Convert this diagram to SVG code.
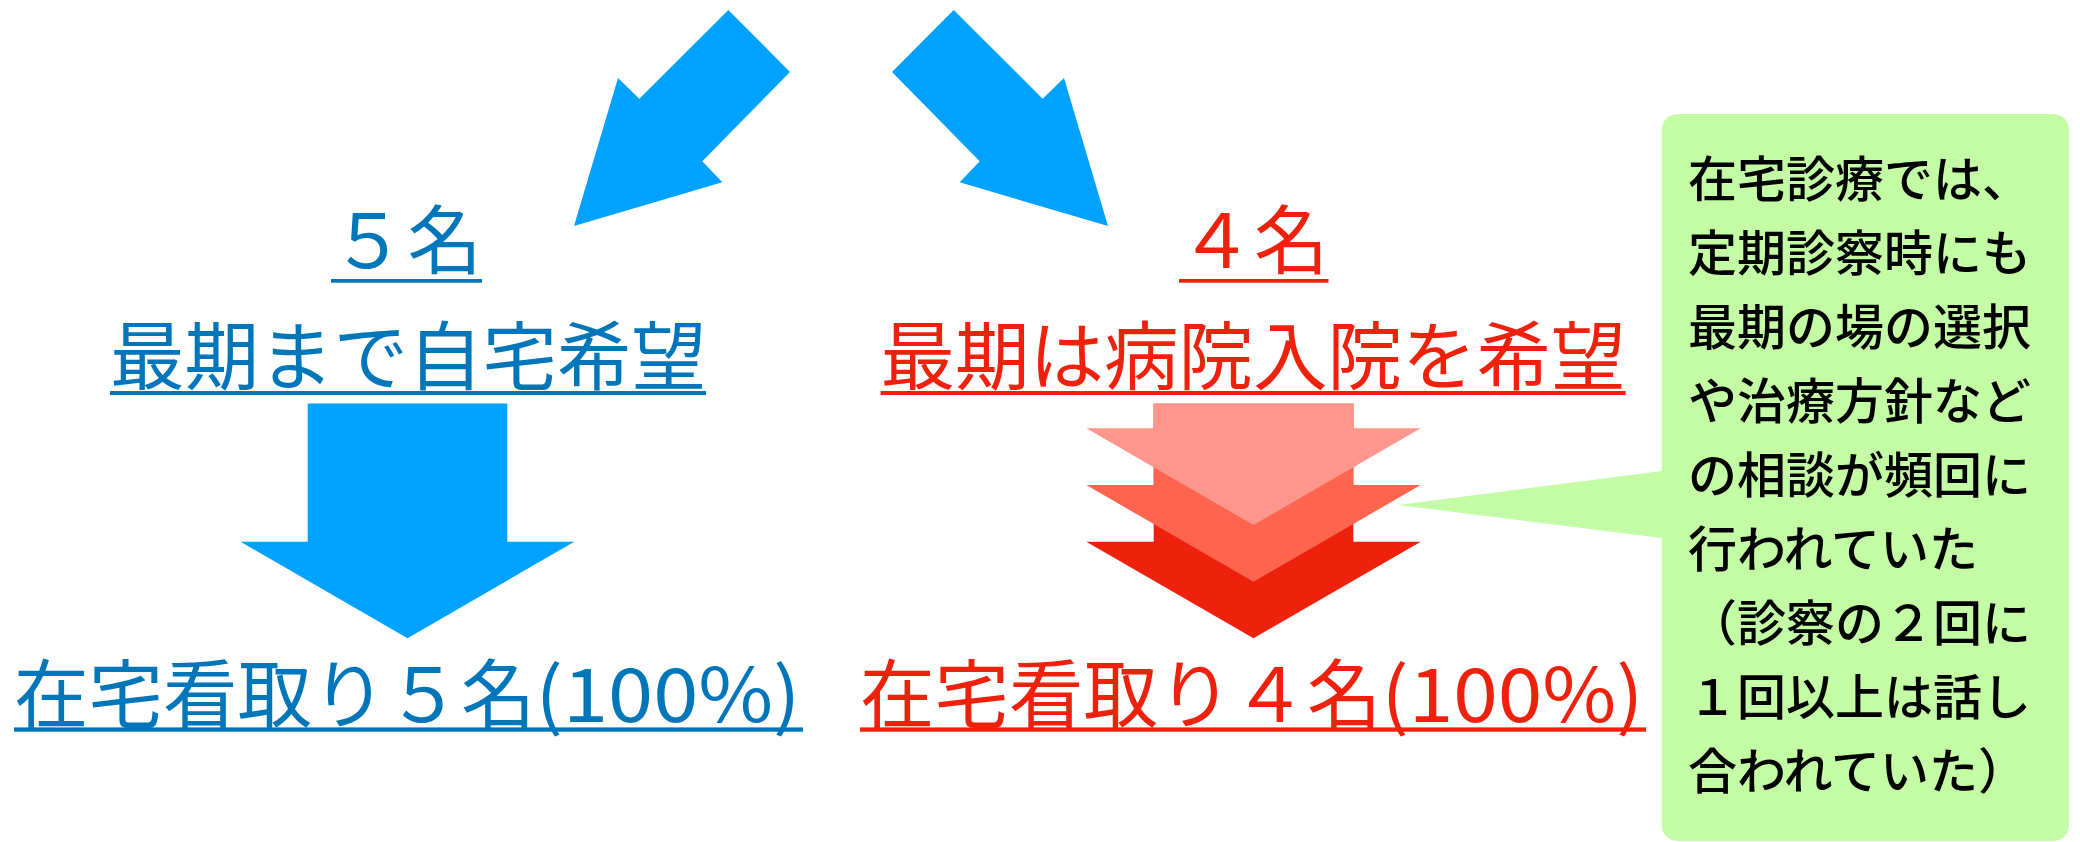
<svg xmlns="http://www.w3.org/2000/svg" width="2080" height="842" viewBox="0 0 2080 842">
  <style>
    .lbl { font-family: "Noto Sans CJK JP", "Noto Sans", sans-serif; font-size: 74.5px; font-weight: 400; }
    .blue { fill: #0076BA; }
    .red { fill: #EE220C; }
    .note { font-family: "Noto Sans CJK JP", "Noto Sans", sans-serif; font-size: 49px; font-weight: 500; fill: #000000; }
    .bigarrow { fill: #00A2FF; }
  </style>
  <rect width="2080" height="842" fill="#FFFFFF"/>

  <g id="connectors">
    <polygon id="arrow-left-diag" class="bigarrow" points="728.3,10 790,72 702.3,161.3 722.3,182.3 574,226 618,78 639.3,98.7"/>
    <polygon id="arrow-right-diag" class="bigarrow" points="953.7,10 1042.7,98.7 1064,78 1108,226 959.7,182.3 979.7,161.3 892,72"/>
    <polygon id="arrow-left-down" class="bigarrow" points="307.7,403.5 507.3,403.5 507.3,541.7 574.3,541.7 407.5,638.3 240.5,541.7 307.7,541.7"/>
    <g id="arrow-right-down">
      <polygon fill="#EE220C" points="1153.7,403.7 1353.3,403.7 1353.3,541.7 1420.7,541.7 1253.5,638.3 1086.3,541.7 1153.7,541.7"/>
      <polygon fill="#FF644E" points="1153.7,403.7 1353.3,403.7 1353.3,485 1420.7,485 1253.5,581.7 1086.3,485 1153.7,485"/>
      <polygon fill="#FF968D" points="1153.7,403.7 1353.3,403.7 1353.3,428.3 1420.7,428.3 1253.5,525 1086.3,428.3 1153.7,428.3"/>
    </g>
  </g>

  <g id="left-count">
    <text class="lbl blue" x="331" y="267.5" textLength="151">５名</text>
    <rect class="blue" x="331" y="279" width="151" height="3.7"/>
  </g>
  <g id="left-wish">
    <text class="lbl blue" x="110" y="384" textLength="596">最期まで自宅希望</text>
    <rect class="blue" x="110" y="391" width="596" height="4"/>
  </g>
  <g id="left-result">
    <text class="lbl blue" x="14" y="721.5" textLength="521.5">在宅看取り５名</text>
    <text class="lbl blue" x="535.5" y="721.5" textLength="265" lengthAdjust="spacingAndGlyphs">(100%)</text>
    <rect class="blue" x="14" y="727.4" width="789" height="4.3"/>
  </g>

  <g id="right-count">
    <text class="lbl red" x="1179" y="267.5" textLength="149.5">４名</text>
    <rect class="red" x="1179" y="279" width="149.5" height="3.7"/>
  </g>
  <g id="right-wish">
    <text class="lbl red" x="880.6" y="384" textLength="745">最期は病院入院を希望</text>
    <rect class="red" x="880.6" y="391" width="745" height="4"/>
  </g>
  <g id="right-result">
    <text class="lbl red" x="860" y="721.5" textLength="521.5">在宅看取り４名</text>
    <text class="lbl red" x="1381.5" y="721.5" textLength="262" lengthAdjust="spacingAndGlyphs">(100%)</text>
    <rect class="red" x="860" y="727.4" width="786" height="4.3"/>
  </g>

  <g id="callout">
    <path fill="#C3FCA5" d="M1680,114 H2051 Q2069,114 2069,132 V823 Q2069,841 2051,841 H1680 Q1661.7,841 1661.7,823 V538 L1398,505 L1661.7,471 V132 Q1661.7,114 1680,114 Z"/>
    <text class="note" x="1688" y="196.6">在宅診療では、</text>
    <text class="note" x="1688" y="270.7">定期診察時にも</text>
    <text class="note" x="1688" y="344.8">最期の場の選択</text>
    <text class="note" x="1688" y="418.9">や治療方針など</text>
    <text class="note" x="1688" y="493">の相談が頻回に</text>
    <text class="note" x="1688" y="567.1">行われていた</text>
    <text class="note" x="1688" y="641.2">（診察の２回に</text>
    <text class="note" x="1688" y="715.3">１回以上は話し</text>
    <text class="note" x="1688" y="789.4">合われていた）</text>
  </g>
</svg>
